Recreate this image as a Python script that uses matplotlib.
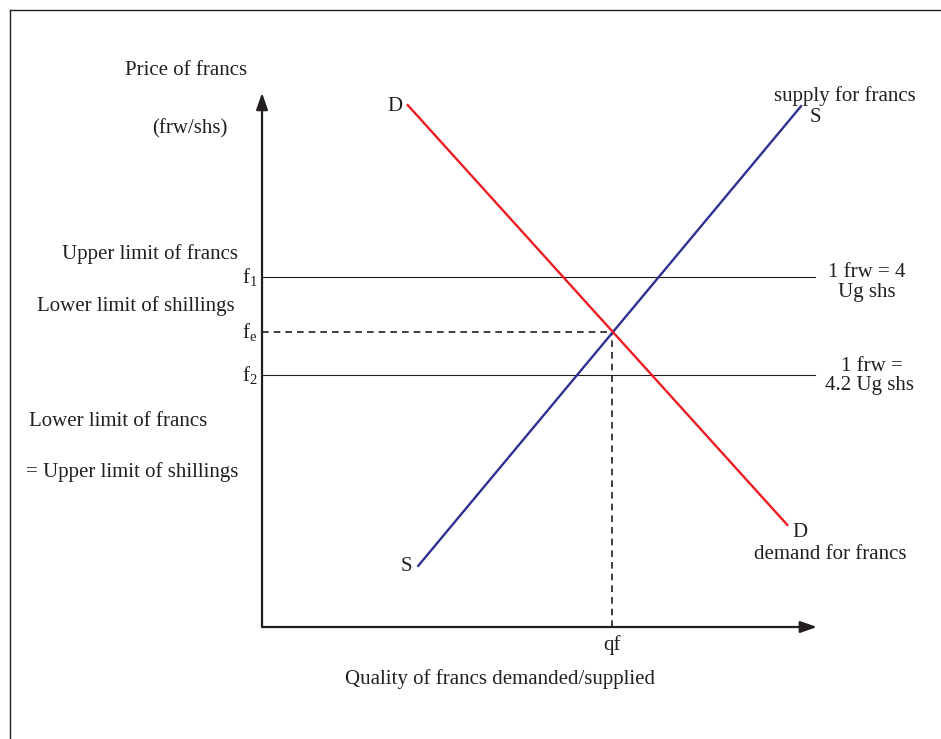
import matplotlib
matplotlib.use("Agg")
import matplotlib.pyplot as plt
from matplotlib.lines import Line2D

plt.rcParams['font.family'] = ['Liberation Serif', 'DejaVu Serif']
plt.rcParams['mathtext.fontset'] = 'custom'
plt.rcParams['mathtext.rm'] = 'Liberation Serif'
plt.rcParams['mathtext.it'] = 'Liberation Serif:italic'
plt.rcParams['text.color'] = '#231f20'

# quantity / price coordinates of the diagram
supply_q = [2.84, 9.80]
supply_p = [1.15, 9.79]
demand_q = [2.65, 9.55]
demand_p = [9.81, 1.92]

q_eq = 6.36
p_eq = 5.545
price_levels = [6.58, 4.74]          # f1, f2
level_names = ['f$_\\mathrm{1}$', 'f$_\\mathrm{2}$']
eq_name = 'f$_\\mathrm{e}$'

red = '#ed1c24'
blue = '#2e3192'
ink = '#231f20'
fs = 15

fig = plt.figure(figsize=(9.41, 7.39), dpi=100)
ax = fig.add_axes([0, 0, 1, 1])
ax.set_xlim(-4.764, 12.345)
ax.set_ylim(-2.105, 11.786)
ax.axis('off')

# frame lines (top and left)
fig.add_artist(Line2D([10 / 941, 1], [1 - 10 / 739, 1 - 10 / 739], color=ink, lw=1.0))
fig.add_artist(Line2D([10 / 941, 10 / 941], [0, 1 - 10 / 739], color=ink, lw=1.0))

# axes with arrows
arrow = dict(arrowstyle='-|>,head_length=1.0,head_width=0.35', color=ink, lw=1.6,
             shrinkA=0, shrinkB=0)
ax.annotate('', xy=(10.09, 0), xytext=(0, 0), arrowprops=arrow)
ax.annotate('', xy=(0, 10.04), xytext=(0, 0), arrowprops=arrow)

# limits
for p in price_levels:
    ax.plot([0, 10.05], [p, p], color=ink, lw=0.8)

# equilibrium dashes
ax.plot([0, q_eq], [p_eq, p_eq], color=ink, lw=1.2, ls=(0, (4, 3)))
ax.plot([q_eq, q_eq], [0, p_eq], color=ink, lw=1.2, ls=(0, (4, 3)))

# supply and demand
ax.plot(supply_q, supply_p, color=blue, lw=1.7)
ax.plot(demand_q, demand_p, color=red, lw=1.7)

# price labels
ax.text(-0.08, price_levels[0], level_names[0], ha='right', va='center', fontsize=fs)
ax.text(-0.08, price_levels[1], level_names[1], ha='right', va='center', fontsize=fs)
ax.text(-0.08, p_eq, eq_name, ha='right', va='center', fontsize=fs)

# left texts
ax.text(-1.38, 10.47, 'Price of francs', ha='center', va='center', fontsize=fs)
ax.text(-1.31, 9.36, '(frw/shs)', ha='center', va='center', fontsize=fs)
ax.text(-2.04, 7.01, 'Upper limit of francs', ha='center', va='center', fontsize=fs)
ax.text(-2.29, 6.03, 'Lower limit of shillings', ha='center', va='center', fontsize=fs)
ax.text(-2.62, 3.87, 'Lower limit of francs', ha='center', va='center', fontsize=fs)
ax.text(-2.36, 2.91, '= Upper limit of shillings', ha='center', va='center', fontsize=fs)

# curve labels
ax.text(2.42, 9.79, 'D', ha='center', va='center', fontsize=fs)
ax.text(10.07, 9.58, 'S', ha='center', va='center', fontsize=fs)
ax.text(10.6, 9.99, 'supply for francs', ha='center', va='center', fontsize=fs)
ax.text(9.78, 1.78, 'D', ha='center', va='center', fontsize=fs)
ax.text(10.33, 1.36, 'demand for francs', ha='center', va='center', fontsize=fs)
ax.text(2.62, 1.14, 'S', ha='center', va='center', fontsize=fs)

# right-hand rate labels
ax.text(11.0, 6.66, '1 frw = 4', ha='center', va='center', fontsize=fs)
ax.text(11.0, 6.28, 'Ug shs', ha='center', va='center', fontsize=fs)
ax.text(11.09, 4.89, '1 frw =', ha='center', va='center', fontsize=fs)
ax.text(11.04, 4.54, '4.2 Ug shs', ha='center', va='center', fontsize=fs)

# x axis labels
ax.text(q_eq, -0.34, 'qf', ha='center', va='center', fontsize=fs)
ax.text(4.33, -0.98, 'Quality of francs demanded/supplied', ha='center', va='center', fontsize=fs)

fig.savefig('out.png', dpi=100)
